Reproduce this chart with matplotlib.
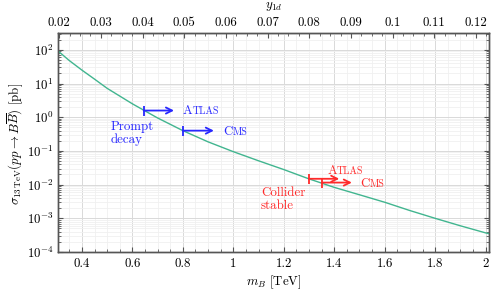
import numpy as np
import matplotlib
matplotlib.use("Agg")
from matplotlib import pyplot as plt
from matplotlib.ticker import MultipleLocator, FuncFormatter, LogLocator, NullFormatter

plt.rcParams['font.family'] = 'serif'
plt.rcParams['font.serif'] = ['cmr10']
plt.rcParams['mathtext.fontset'] = 'cm'
plt.rcParams['axes.formatter.use_mathtext'] = True

# cross section curve
m_B = [0.3, 0.35, 0.4, 0.45, 0.5, 0.6, 0.7, 0.8, 0.9, 1.0, 1.1, 1.2, 1.3,
       1.4, 1.5, 1.6, 1.7, 1.8, 1.9, 2.0, 2.02]
sigma = [100, 48, 25, 13.5, 7.2, 2.5, 0.95, 0.40, 0.186, 0.095, 0.051, 0.028,
         0.0148, 0.0083, 0.0050, 0.0030, 0.0017, 0.0010, 0.0006, 0.00037, 0.00034]

# limits: (name, start mass, arrow end, sigma)
prompt_limits = [("ATLAS", 0.645, 0.765, 1.58), ("CMS", 0.80, 0.923, 0.40)]
stable_limits = [("ATLAS", 1.30, 1.42, 0.0149), ("CMS", 1.35, 1.47, 0.0115)]

x_ticks = [0.4, 0.6, 0.8, 1.0, 1.2, 1.4, 1.6, 1.8, 2.0]
top_ticks = [0.02, 0.03, 0.04, 0.05, 0.06, 0.07, 0.08, 0.09, 0.10, 0.11, 0.12]

curve_col = '#41b58f'
spine_col = '#555555'
blue = '#2828ff'
red = '#ff2a2a'
fs = 9.3

fig = plt.figure(figsize=(4.93, 2.91), dpi=100)
ax = fig.add_axes([0.1176, 0.134, 0.875, 0.7526])

ax.set_yscale('log')
ax.set_xlim(0.305, 2.015)
ax.set_ylim(1e-4, 10**2.5)

ax.plot(m_B, sigma, color=curve_col, lw=1.0, zorder=3)


def smallcaps(ax, x, y, word, color):
    t1 = ax.text(x, y, word[0], color=color, fontsize=fs, va='baseline', ha='left', zorder=5)
    ax.annotate(word[1:], xy=(1, y), xycoords=(t1, 'data'), color=color,
                fontsize=fs * 0.78, va='baseline', ha='left', zorder=5)


def limit_arrow(ax, x0, x1, y, color):
    ax.plot([x0], [y], marker='|', ms=7.5, mew=1.3, color=color, zorder=4)
    ax.annotate('', xy=(x1, y), xytext=(x0, y),
                arrowprops=dict(arrowstyle='->', color=color, lw=1.3,
                                shrinkA=0, shrinkB=0, mutation_scale=11),
                zorder=4)


for name, x0, x1, y in prompt_limits:
    limit_arrow(ax, x0, x1, y, blue)
for name, x0, x1, y in stable_limits:
    limit_arrow(ax, x0, x1, y, red)

smallcaps(ax, 0.80, 1.22, "ATLAS", blue)
smallcaps(ax, 0.96, 0.30, "CMS", blue)
ax.text(0.512, 0.33, "Prompt\ndecay", color=blue, fontsize=fs, va='center', ha='left',
        linespacing=1.1)

smallcaps(ax, 1.373, 0.0205, "ATLAS", red)
smallcaps(ax, 1.505, 0.0083, "CMS", red)
ax.text(1.109, 0.0037, "Collider\nstable", color=red, fontsize=fs, va='center', ha='left',
        linespacing=1.1)

# grid
ax.xaxis.set_major_locator(plt.FixedLocator(x_ticks))
ax.xaxis.set_minor_locator(MultipleLocator(0.05))
ax.xaxis.set_major_formatter(FuncFormatter(lambda v, p: '%g' % v))
ax.yaxis.set_major_locator(LogLocator(base=10, numticks=20))
ax.yaxis.set_minor_locator(LogLocator(base=10, subs=np.arange(2, 10), numticks=20))
ax.yaxis.set_minor_formatter(NullFormatter())
ax.grid(True, which='major', color='#d9d9d9', lw=0.7, zorder=0)
ax.grid(True, which='minor', color='#f0f0f0', lw=0.6, zorder=0)
ax.set_axisbelow(True)

ax.tick_params(which='both', direction='in', colors=spine_col, labelcolor='black',
               labelsize=fs, right=True, top=False)
ax.tick_params(which='major', length=3.5, width=0.8)
ax.tick_params(which='minor', length=2, width=0.6)
ax.tick_params(axis='x', pad=4)
ax.tick_params(axis='y', pad=3)
for s in ax.spines.values():
    s.set_color(spine_col)
    s.set_linewidth(1.0)

ax.set_xlabel(r"$m_B$ [TeV]", fontsize=fs, va='center')
ax.xaxis.set_label_coords(0.5, -0.137)
ax.set_ylabel(r"$\sigma_{13\,\mathrm{TeV}}(pp\to B\overline{B})$ [pb]", fontsize=fs, va='center')
ax.yaxis.set_label_coords(-0.1, 0.495)

ax2 = ax.twiny()
ax2.set_xlim(0.0197, 0.1232)
ax2.xaxis.set_major_locator(plt.FixedLocator(top_ticks))
ax2.xaxis.set_minor_locator(MultipleLocator(0.0025))
ax2.xaxis.set_major_formatter(FuncFormatter(lambda v, p: '%g' % round(v, 3)))
ax2.tick_params(which='both', direction='in', colors=spine_col, labelcolor='black',
                labelsize=fs, pad=3)
ax2.tick_params(which='major', length=3.5, width=0.8)
ax2.tick_params(which='minor', length=2, width=0.6)
for s in ax2.spines.values():
    s.set_color(spine_col)
    s.set_linewidth(1.0)
ax2.set_xlabel(r"$y_{1d}$", fontsize=fs, va='center')
ax2.xaxis.set_label_coords(0.5, 1.119)

fig.savefig("out.png", dpi=100)
